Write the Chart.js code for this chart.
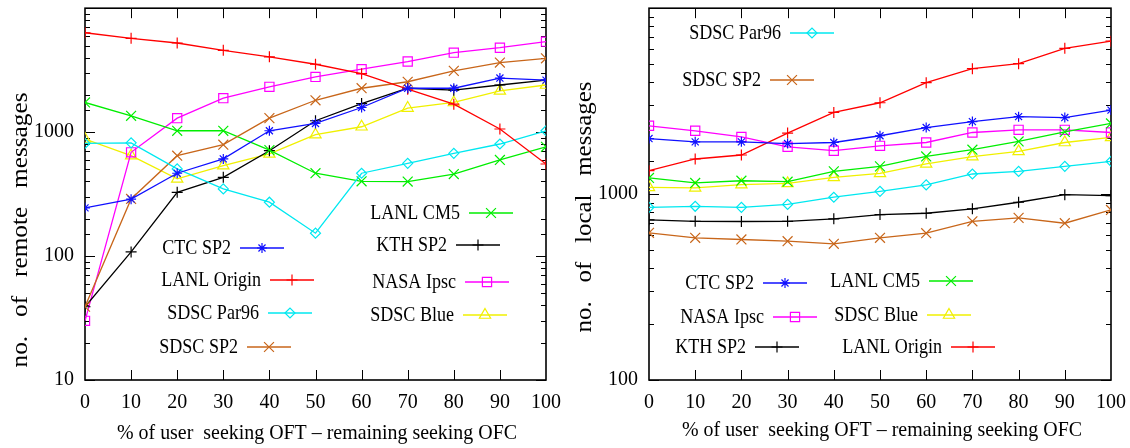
<!DOCTYPE html>
<html>
<head>
<meta charset="utf-8">
<script src="https://cdn.jsdelivr.net/npm/chart.js@4.4.0/dist/chart.umd.min.js"></script>
<style>
html, body { margin: 0; padding: 0; background: #fff; }
#wrap { position: relative; width: 1130px; height: 448px; }
canvas { position: absolute; top: 0; }
</style>
</head>
<body>
<div id="wrap">
  <canvas id="remote" width="565" height="448" style="left:0"></canvas>
  <canvas id="local" width="565" height="448" style="left:565px"></canvas>
</div>
<script>
// x: % of users seeking OFT
var xs = [0, 10, 20, 30, 40, 50, 60, 70, 80, 90, 100];

// no. of remote messages (left chart)
var remoteCtcSp2     = [245, 288, 466, 608, 1026, 1175, 1580, 2260, 2260, 2730, 2630];
var remoteLanlOrigin = [6340, 5710, 5240, 4570, 4050, 3530, 2960, 2220, 1680, 1060, 553];
var remoteSdscPar96  = [811, 820, 505, 348, 272, 153, 466, 560, 674, 802, 1026];
var remoteSdscSp2    = [39, 289, 646, 792, 1297, 1808, 2260, 2550, 3120, 3640, 3940];
var remoteLanlCm5    = [1735, 1355, 1026, 1026, 716, 466, 401, 399, 459, 596, 762];
var remoteKthSp2     = [39, 108, 327, 432, 708, 1236, 1700, 2260, 2180, 2400, 2630];
var remoteNasaIpsc   = [30, 687, 1297, 1880, 2320, 2790, 3220, 3710, 4380, 4800, 5370];
var remoteSdscBlue   = [880, 646, 420, 537, 667, 953, 1105, 1564, 1735, 2150, 2400];

// no. of local messages (right chart)
var localCtcSp2     = [1990, 1910, 1910, 1870, 1895, 2060, 2280, 2455, 2610, 2580, 2830];
var localLanlOrigin = [1336, 1545, 1623, 2130, 2750, 3100, 3975, 4730, 5030, 6080, 6650];
var localSdscPar96  = [849, 860, 849, 880, 962, 1035, 1120, 1283, 1325, 1410, 1500];
var localSdscSp2    = [619, 582, 570, 558, 540, 582, 616, 714, 745, 697, 822];
var localLanlCm5    = [1222, 1148, 1180, 1166, 1325, 1410, 1595, 1733, 1920, 2162, 2400];
var localKthSp2     = [727, 714, 712, 714, 736, 776, 789, 833, 904, 993, 982];
var localNasaIpsc   = [2330, 2190, 2030, 1797, 1712, 1818, 1895, 2145, 2217, 2217, 2145];
var localSdscBlue   = [1087, 1080, 1124, 1142, 1230, 1293, 1453, 1590, 1697, 1895, 2017];

var remoteTicks = [10, 100, 1000];
var localTicks = [100, 1000];

// line / marker look of each trace
var looks = {
  'CTC SP2':     { color: '#1010ff', point: 'star', r: 5 },
  'LANL Origin': { color: '#ff0000', point: 'cross', r: 5.5 },
  'SDSC Par96':  { color: '#00e8f0', point: 'rectRot', r: 5 },
  'SDSC SP2':    { color: '#c8661a', point: 'crossRot', r: 7 },
  'LANL CM5':    { color: '#00ee00', point: 'crossRot', r: 7 },
  'KTH SP2':     { color: '#000000', point: 'cross', r: 5.5 },
  'NASA Ipsc':   { color: '#ff00ff', point: 'rect', r: 6.5 },
  'SDSC Blue':   { color: '#f0f000', point: 'triangle', r: 6.5 }
};

var SERIF = '"Liberation Serif", "Times New Roman", serif';

function makeDatasets(series) {
  return series.map(function (s) {
    var lk = looks[s[0]];
    return {
      label: s[0],
      data: xs.map(function (x, i) { return { x: x, y: s[1][i] }; }),
      borderColor: lk.color,
      backgroundColor: lk.color,
      borderWidth: 1.3,
      pointStyle: lk.point,
      pointRadius: lk.r,
      pointBorderColor: lk.color,
      pointBackgroundColor: 'rgba(0,0,0,0)',
      pointBorderWidth: 1.2,
      tension: 0
    };
  });
}

// text squeezed horizontally a bit, like the original
function squeezedText(ctx, str, x, y, align, sx, font) {
  ctx.save();
  ctx.font = font;
  ctx.fillStyle = '#000';
  ctx.textBaseline = 'middle';
  var w = ctx.measureText(str).width * sx;
  var left = align === 'right' ? x - w : (align === 'center' ? x - w / 2 : x);
  ctx.translate(left, y);
  ctx.scale(sx, 1);
  ctx.textAlign = 'left';
  ctx.fillText(str, 0, 0);
  ctx.restore();
}

function fitText(ctx, str, cx, cy, width, font, rotate) {
  ctx.save();
  ctx.font = font;
  ctx.fillStyle = '#000';
  ctx.textBaseline = 'middle';
  ctx.textAlign = 'center';
  var sx = width / ctx.measureText(str).width;
  ctx.translate(cx, cy);
  if (rotate) ctx.rotate(-Math.PI / 2);
  ctx.scale(sx, 1);
  ctx.fillText(str, 0, 0);
  ctx.restore();
}

var framePlugin = {
  id: 'frame',
  beforeDatasetsDraw: function (chart) {
    var ctx = chart.ctx, a = chart.chartArea;
    var xS = chart.scales.x, yS = chart.scales.y;
    ctx.save();
    ctx.strokeStyle = '#000';
    ctx.lineWidth = 1;
    ctx.beginPath();
    xS.ticks.forEach(function (t) {
      if (t.value <= 0 || t.value >= 100) return;
      var px = Math.round(xS.getPixelForValue(t.value)) + 0.5;
      ctx.moveTo(px, a.bottom); ctx.lineTo(px, a.bottom - 10);
      ctx.moveTo(px, a.top); ctx.lineTo(px, a.top + 10);
    });
    yS.ticks.forEach(function (t) {
      var l = Math.log10(t.value);
      var major = Math.abs(l - Math.round(l)) < 1e-9;
      var len = major ? 10 : 5;
      var py = Math.round(yS.getPixelForValue(t.value)) + 0.5;
      ctx.moveTo(a.left, py); ctx.lineTo(a.left + len, py);
      ctx.moveTo(a.right, py); ctx.lineTo(a.right - len, py);
    });
    ctx.stroke();
    ctx.lineWidth = 1.6;
    ctx.strokeRect(a.left, a.top, a.right - a.left, a.bottom - a.top);
    ctx.restore();
  },
  afterDraw: function (chart) {
    var o = chart.options.plugins.frame;
    var ctx = chart.ctx;
    // legend entries: text, sample line, marker
    o.legend.forEach(function (e) {
      var lk = looks[e.name];
      squeezedText(ctx, e.name, e.lineX - 9, e.y, 'right', 0.86, '21px ' + SERIF);
      ctx.save();
      ctx.strokeStyle = lk.color;
      ctx.lineWidth = 1.3;
      ctx.beginPath();
      ctx.moveTo(e.lineX, e.y); ctx.lineTo(e.lineX + 44, e.y);
      ctx.stroke();
      ctx.fillStyle = 'rgba(0,0,0,0)';
      ctx.lineWidth = 1.2;
      if (Chart.helpers && Chart.helpers.drawPoint) {
        Chart.helpers.drawPoint(ctx, { pointStyle: lk.point, radius: lk.r, rotation: 0, borderWidth: 1.2 }, e.lineX + 22, e.y);
      }
      ctx.restore();
    });
    // axis titles
    fitText(ctx, o.yTitle, o.yTitleX, o.yTitleY, o.yTitleLen, '24px ' + SERIF, true);
    fitText(ctx, o.xTitle, o.xTitleX, o.xTitleY, 400, '22px ' + SERIF, false);
  }
};

function noPad(s) {
  s.paddingTop = 0; s.paddingBottom = 0; s.paddingLeft = 0; s.paddingRight = 0;
}

function makeChart(id, series, labelled, yWidth, frame) {
  var ctx = document.getElementById(id).getContext('2d');
  return new Chart(ctx, {
    type: 'line',
    data: { datasets: makeDatasets(series) },
    options: {
      responsive: false,
      animation: false,
      devicePixelRatio: 1,
      layout: { padding: { left: 0, right: 19, top: 7, bottom: 0 } },
      plugins: { legend: { display: false }, tooltip: { enabled: false }, frame: frame },
      scales: {
        x: {
          type: 'linear', min: 0, max: 100,
          grid: { display: false, drawTicks: false },
          border: { display: false },
          ticks: { stepSize: 10, color: '#000', padding: 11, maxRotation: 0, font: { family: SERIF, size: 20 } },
          afterFit: function (s) { s.height = 68; noPad(s); }
        },
        y: {
          type: 'logarithmic',
          min: labelled[0], max: 10000,
          grid: { display: false, drawTicks: false },
          border: { display: false },
          ticks: {
            autoSkip: false, color: '#000', padding: 11,
            font: { family: SERIF, size: 20 },
            callback: function (v) { return labelled.indexOf(v) >= 0 ? String(v) : ''; }
          },
          afterFit: function (s) { s.width = yWidth; noPad(s); }
        }
      }
    },
    plugins: [framePlugin]
  });
}

var xTitle = '% of user  seeking OFT \u2013 remaining seeking OFC';

makeChart('remote', [
  ['CTC SP2', remoteCtcSp2], ['LANL Origin', remoteLanlOrigin], ['SDSC Par96', remoteSdscPar96],
  ['SDSC SP2', remoteSdscSp2], ['LANL CM5', remoteLanlCm5], ['KTH SP2', remoteKthSp2],
  ['NASA Ipsc', remoteNasaIpsc], ['SDSC Blue', remoteSdscBlue]
], remoteTicks, 85, {
  legend: [
    { name: 'CTC SP2', lineX: 240, y: 248 },
    { name: 'LANL Origin', lineX: 270, y: 280 },
    { name: 'SDSC Par96', lineX: 268, y: 313 },
    { name: 'SDSC SP2', lineX: 247, y: 347 },
    { name: 'LANL CM5', lineX: 469, y: 213 },
    { name: 'KTH SP2', lineX: 456, y: 245 },
    { name: 'NASA Ipsc', lineX: 465, y: 282 },
    { name: 'SDSC Blue', lineX: 463, y: 315 }
  ],
  yTitle: 'no.   of   remote   messages', yTitleX: 21, yTitleY: 230, yTitleLen: 275,
  xTitle: xTitle, xTitleX: 317, xTitleY: 433
});

makeChart('local', [
  ['CTC SP2', localCtcSp2], ['LANL Origin', localLanlOrigin], ['SDSC Par96', localSdscPar96],
  ['SDSC SP2', localSdscSp2], ['LANL CM5', localLanlCm5], ['KTH SP2', localKthSp2],
  ['NASA Ipsc', localNasaIpsc], ['SDSC Blue', localSdscBlue]
], localTicks, 84, {
  legend: [
    { name: 'SDSC Par96', lineX: 225, y: 33 },
    { name: 'SDSC SP2', lineX: 205, y: 80 },
    { name: 'CTC SP2', lineX: 198, y: 283 },
    { name: 'NASA Ipsc', lineX: 208, y: 317 },
    { name: 'KTH SP2', lineX: 190, y: 347 },
    { name: 'LANL CM5', lineX: 364, y: 281 },
    { name: 'SDSC Blue', lineX: 362, y: 315 },
    { name: 'LANL Origin', lineX: 386, y: 347 }
  ],
  yTitle: 'no.   of   local   messages', yTitleX: 20, yTitleY: 207, yTitleLen: 251,
  xTitle: xTitle, xTitleX: 317, xTitleY: 430
});
</script>
</body>
</html>
